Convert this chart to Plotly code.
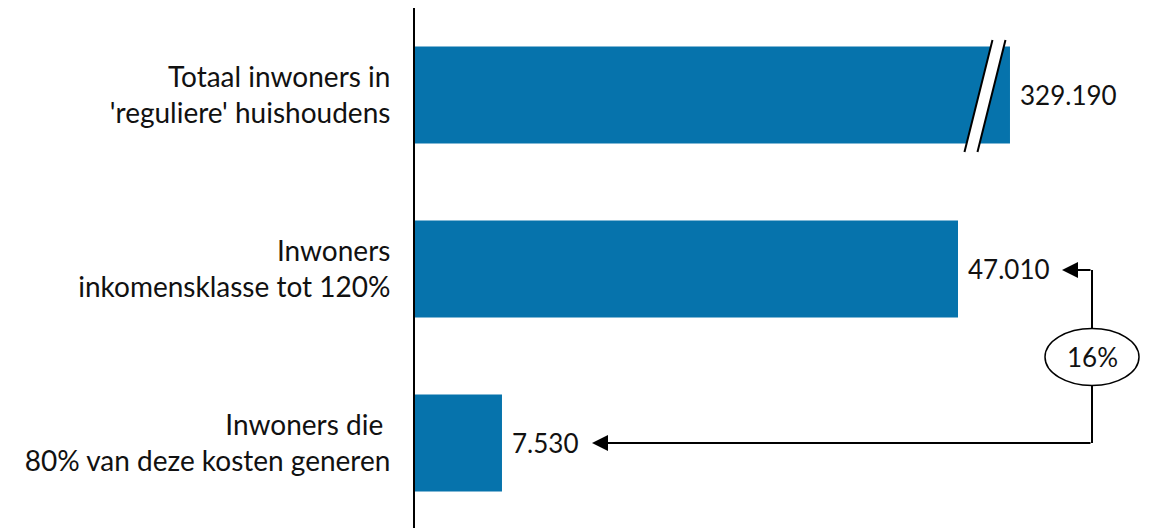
import plotly.graph_objects as go

# ---- data ----
categories = [
    "Totaal inwoners in<br>'reguliere' huishoudens",
    "Inwoners<br>inkomensklasse tot 120%",
    "Inwoners die <br>80% van deze kosten generen",
]
values = [329190, 47010, 7530]
value_labels = ["329.190", "47.010", "7.530"]
share_label = "16%"

# ---- display settings ----
axis_break_cap = 51510          # bar 1 is cut off (axis break) at this value
bar_color = "#0673AC"
font_family = "Lato, 'Noto Sans', sans-serif"
BODY = 8                        # browser default body margin
W, H = 1141, 520
ML, MT = 415 - BODY, 0
PX_PER_UNIT = 543 / 47010.0     # horizontal scale
CAT_PX = 174.0                  # pixels per category
xmax = (W - ML) / PX_PER_UNIT
ymax = -0.5 + (H - MT) / CAT_PX

def px2x(px):  # page pixel -> data x
    return (px - BODY - ML) / PX_PER_UNIT

def py2y(py):  # page pixel -> data y
    return -0.5 + (py - BODY - MT) / CAT_PX

display_vals = [min(v, axis_break_cap) for v in values]
ypos = list(range(len(categories)))

fig = go.Figure()
fig.add_trace(go.Bar(
    x=display_vals, y=ypos, orientation="h",
    marker=dict(color=bar_color, line=dict(width=0)),
    width=0.557, hoverinfo="skip",
))

annotations = []
for yv, dv, lab in zip(ypos, display_vals, value_labels):
    annotations.append(dict(
        x=dv, y=yv, xref="x", yref="y", text=lab, showarrow=False,
        xanchor="left", yanchor="middle", xshift=8, yshift=0,
        font=dict(size=26, color="#111111", family=font_family),
    ))

# connector geometry
x_vert = px2x(1092)
y_top = py2y(270)
y_bot = 2
shapes = []
# axis break: white band + two slanted lines
bc = axis_break_cap - 25 / PX_PER_UNIT
dx_half = 14 / PX_PER_UNIT
gap = 6.5 / PX_PER_UNIT
yt, yb = py2y(40), py2y(152)
shapes.append(dict(type="path", xref="x", yref="y",
    path=f"M {bc-gap+dx_half},{yt} L {bc+gap+dx_half},{yt} L {bc+gap-dx_half},{yb} L {bc-gap-dx_half},{yb} Z",
    fillcolor="white", line=dict(width=0)))
for s in (-gap, gap):
    shapes.append(dict(type="line", xref="x", yref="y",
        x0=bc + s + dx_half, y0=yt, x1=bc + s - dx_half, y1=yb,
        line=dict(color="black", width=2)))

# vertical connector line
shapes.append(dict(type="line", xref="x", yref="y",
    x0=x_vert, y0=y_top, x1=x_vert, y1=y_bot, line=dict(color="black", width=2)))
# ellipse
ecx, ecy = 1092, 357
shapes.append(dict(type="circle", xref="x", yref="y",
    x0=px2x(ecx - 47), x1=px2x(ecx + 47), y0=py2y(ecy - 28.5), y1=py2y(ecy + 28.5),
    fillcolor="white", line=dict(color="black", width=1.5)))

# arrows (horizontal parts with heads)
tip_top = display_vals[1] + 104 / PX_PER_UNIT
tip_bot = display_vals[2] + 90 / PX_PER_UNIT
for tip, yv in ((tip_top, y_top), (tip_bot, y_bot)):
    annotations.append(dict(
        x=tip, y=yv, ax=x_vert, ay=yv, xref="x", yref="y", axref="x", ayref="y",
        text="", showarrow=True, arrowhead=2, arrowsize=1.6, arrowwidth=2,
        arrowcolor="black", standoff=0, startstandoff=0,
    ))

annotations.append(dict(
    x=px2x(ecx), y=py2y(ecy), xref="x", yref="y", text=share_label, showarrow=False,
    font=dict(size=26, color="#111111", family=font_family),
))

fig.update_layout(
    width=W, height=H,
    margin=dict(l=ML, r=0, t=MT, b=0, pad=0),
    paper_bgcolor="white", plot_bgcolor="white",
    showlegend=False,
    xaxis=dict(range=[0, xmax], visible=False, fixedrange=True),
    yaxis=dict(range=[ymax, -0.5], tickmode="array", tickvals=ypos, ticktext=categories,
               showline=True, linecolor="black", linewidth=2, showgrid=False,
               zeroline=False, ticks="", ticklabelstandoff=17,
               tickfont=dict(size=28, color="#111111", family=font_family)),
    shapes=shapes, annotations=annotations,
    font=dict(family=font_family),
)
fig.write_html("out.html")
